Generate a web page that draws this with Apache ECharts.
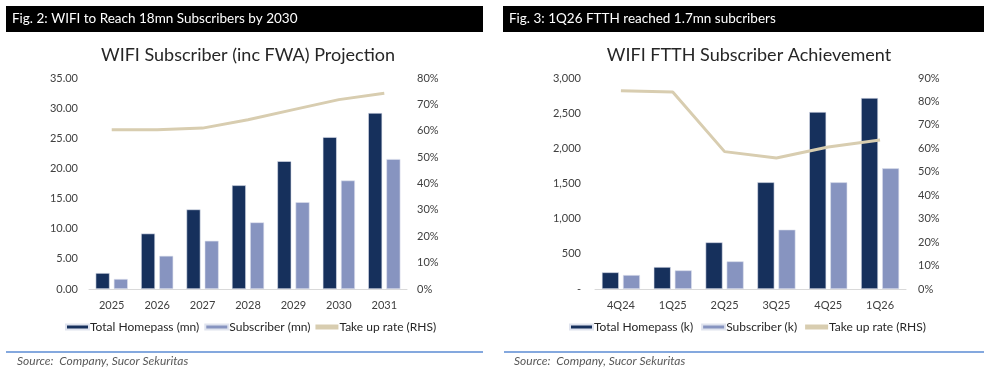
<!DOCTYPE html>
<html><head><meta charset="utf-8">
<script src="https://cdn.jsdelivr.net/npm/echarts@6/dist/echarts.min.js"></script>
<style>html,body{margin:0;padding:0;background:#fff}#c{width:992px;height:373px}</style>
</head><body><div id="c"></div>
<script>
// Left chart: WIFI Subscriber (inc FWA) Projection
const yearsL = ['2025','2026','2027','2028','2029','2030','2031'];
const homepassL = [2.65, 9.2, 13.2, 17.2, 21.2, 25.2, 29.2];
const subscriberL = [1.66, 5.5, 8.0, 11.05, 14.4, 18.0, 21.55];
const takeupL = [60.4, 60.4, 61.0, 64.2, 68.0, 71.8, 74.2];
// Right chart: WIFI FTTH Subscriber Achievement
const quartersR = ['4Q24','1Q25','2Q25','3Q25','4Q25','1Q26'];
const homepassR = [237, 313, 663, 1517, 2517, 2716];
const subscriberR = [199, 265, 393, 844, 1517, 1716];
const takeupR = [84.6, 84.0, 58.6, 55.9, 60.6, 63.6];

const FONT = 'Lato, "Open Sans", sans-serif';
const DARK = '#16305c', LIGHT = '#8794c0', BEIGE = '#d8cdb0';
const axisTxt = {color:'#404040', fontSize:11, fontFamily:FONT};

const chart = echarts.init(document.getElementById('c'));
chart.setOption({
  animation:false,
  textStyle:{fontFamily:FONT},
  title:[
    {text:'WIFI Subscriber (inc FWA) Projection', left:243, top:41, textAlign:'center',
     textStyle:{fontSize:18, fontWeight:'normal', color:'#262626', fontFamily:FONT}},
    {text:'WIFI FTTH Subscriber Achievement', left:744, top:41, textAlign:'center',
     textStyle:{fontSize:18, fontWeight:'normal', color:'#262626', fontFamily:FONT}}
  ],
  grid:[
    {left:89, right:585, top:78, bottom:84},
    {left:595, right:86, top:78, bottom:84}
  ],
  legend:[
    {left:65, top:321, padding:0, itemWidth:23, itemHeight:5, itemGap:5, icon:'rect',
     textStyle:{fontSize:12, color:'#262626', padding:[0,0,0,-4]},
     data:['Total Homepass (mn)','Subscriber (mn)','Take up rate (RHS)']},
    {left:569, top:321, padding:0, itemWidth:23, itemHeight:5, itemGap:8, icon:'rect',
     textStyle:{fontSize:12, color:'#262626', padding:[0,0,0,-4]},
     data:['Total Homepass (k)','Subscriber (k)',{name:'Take up rate (RHS)'}]}
  ],
  xAxis:[
    {type:'category', gridIndex:0, data:yearsL, axisTick:{show:false},
     axisLine:{lineStyle:{color:'#d9d9d9'}}, axisLabel:Object.assign({margin:11}, axisTxt)},
    {type:'category', gridIndex:1, data:quartersR, axisTick:{show:false},
     axisLine:{lineStyle:{color:'#d9d9d9'}}, axisLabel:Object.assign({margin:11}, axisTxt)}
  ],
  yAxis:[
    {type:'value', gridIndex:0, min:0, max:35, interval:5, splitLine:{show:false},
     axisLabel:Object.assign({margin:11, formatter:v=>v.toFixed(2)}, axisTxt)},
    {type:'value', gridIndex:0, min:0, max:80, interval:10, position:'right', splitLine:{show:false},
     axisLabel:Object.assign({margin:10, formatter:v=>v+'%'}, axisTxt)},
    {type:'value', gridIndex:1, min:0, max:3000, interval:500, splitLine:{show:false},
     axisLabel:Object.assign({margin:14, formatter:v=>v===0?'-':v.toLocaleString('en-US')}, axisTxt)},
    {type:'value', gridIndex:1, min:0, max:90, interval:10, position:'right', splitLine:{show:false},
     axisLabel:Object.assign({margin:12, formatter:v=>v+'%'}, axisTxt)}
  ],
  series:[
    {name:'Total Homepass (mn)', type:'bar', xAxisIndex:0, yAxisIndex:0, data:homepassL,
     barWidth:14, barGap:'30%', itemStyle:{color:DARK, borderColor:'#dfe3ee', borderWidth:0.6}},
    {name:'Subscriber (mn)', type:'bar', xAxisIndex:0, yAxisIndex:0, data:subscriberL,
     barWidth:14, barGap:'30%', itemStyle:{color:LIGHT, borderColor:'#dfe3ee', borderWidth:0.6}},
    {name:'Take up rate (RHS)', type:'line', xAxisIndex:0, yAxisIndex:1, data:takeupL,
     symbol:'none', lineStyle:{color:BEIGE, width:3}, itemStyle:{color:BEIGE}},
    {name:'Total Homepass (k)', type:'bar', xAxisIndex:1, yAxisIndex:2, data:homepassR,
     barWidth:17, barGap:'24%', itemStyle:{color:DARK, borderColor:'#dfe3ee', borderWidth:0.6}},
    {name:'Subscriber (k)', type:'bar', xAxisIndex:1, yAxisIndex:2, data:subscriberR,
     barWidth:17, barGap:'24%', itemStyle:{color:LIGHT, borderColor:'#dfe3ee', borderWidth:0.6}},
    {name:'Take up rate (RHS)', type:'line', xAxisIndex:1, yAxisIndex:3, data:takeupR,
     symbol:'none', lineStyle:{color:BEIGE, width:3}, itemStyle:{color:BEIGE}}
  ],
  graphic:[
    {type:'rect', shape:{x:6, y:6, width:477, height:26}, style:{fill:'#000'}},
    {type:'text', x:12, y:19, style:{text:'Fig. 2: WIFI to Reach 18mn Subscribers by 2030', fill:'#fff',
      fontSize:13.5, fontFamily:FONT, verticalAlign:'middle'}},
    {type:'rect', shape:{x:503, y:6, width:481, height:26}, style:{fill:'#000'}},
    {type:'text', x:509, y:19, style:{text:'Fig. 3: 1Q26 FTTH reached 1.7mn subcribers', fill:'#fff',
      fontSize:13.5, fontFamily:FONT, verticalAlign:'middle'}},
    {type:'line', shape:{x1:6, y1:352, x2:483, y2:352}, style:{stroke:'#5b8bd3', lineWidth:1.5}},
    {type:'line', shape:{x1:504, y1:352, x2:984, y2:352}, style:{stroke:'#5b8bd3', lineWidth:1.5}},
    {type:'text', x:17, y:361, style:{text:'Source:  Company, Sucor Sekuritas', fill:'#595959',
      fontSize:12, fontStyle:'italic', fontFamily:FONT, verticalAlign:'middle'}},
    {type:'text', x:514, y:361, style:{text:'Source:  Company, Sucor Sekuritas', fill:'#595959',
      fontSize:12, fontStyle:'italic', fontFamily:FONT, verticalAlign:'middle'}}
  ]
});
</script>
</body></html>
